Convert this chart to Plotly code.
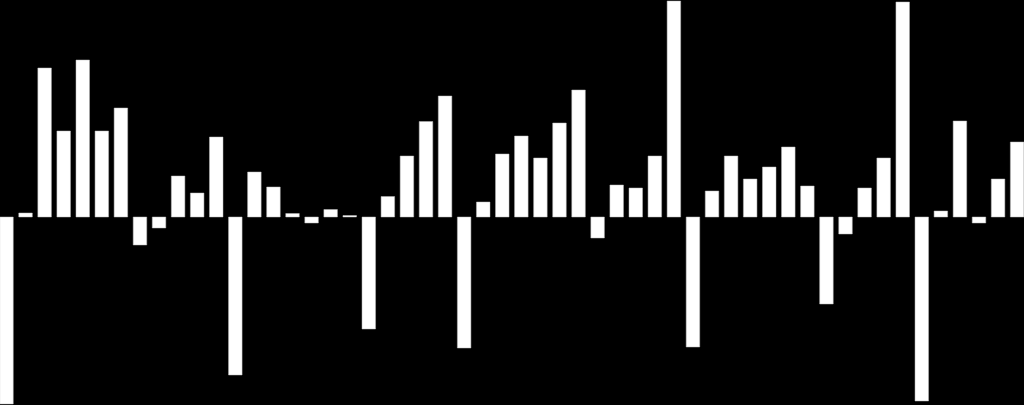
import plotly.graph_objects as go

# bar index and value (positive up, negative down from the baseline)
periods = list(range(54))
values = [-187, 4, 149, 86, 157, 86, 109, -28, -11, 41,
          24, 80, -158, 45, 30, 3.5, -6, 7.5, 1.5, -112,
          20.5, 61, 95.5, 121, -131, 15, 63, 81, 59, 94,
          127, -21, 32, 29, 61, 216, -130, 26, 61, 38,
          50, 70, 31, -87, -17, 29, 59, 215, -184, 6,
          96, -6, 38, 75]

fig = go.Figure(go.Bar(x=periods, y=values,
                       marker=dict(color="white", line=dict(color="#bbbbbb", width=0.5))))

fig.update_layout(width=1024, height=405,
                  margin=dict(l=0, r=0, t=0, b=0),
                  paper_bgcolor="black", plot_bgcolor="black",
                  bargap=0.29, showlegend=False)
fig.update_xaxes(range=[-0.34, 53.36], visible=False, showgrid=False, zeroline=False)
fig.update_yaxes(range=[-188, 217], visible=False, showgrid=False, zeroline=False)

# page margin off so the chart sits flush in the window
fig.write_html("out.html", config={"displayModeBar": False},
               post_script="document.body.style.margin='0';document.body.style.background='black';")
